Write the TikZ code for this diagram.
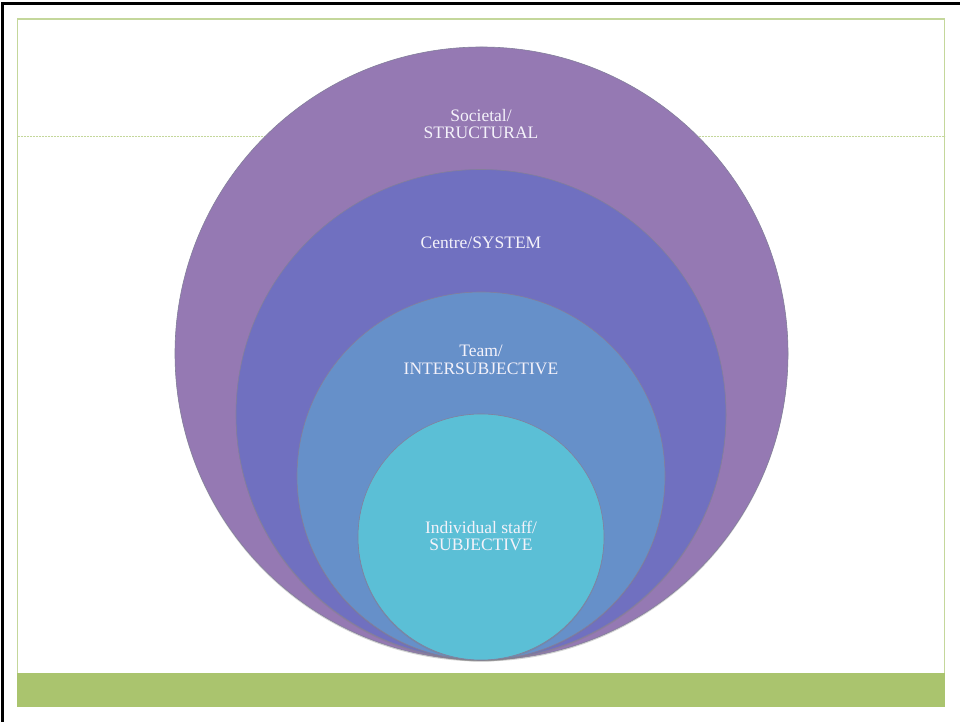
\documentclass[tikz,border=0pt]{standalone}
\usepackage{fontspec}
\setmainfont{Liberation Serif}
\usepackage{tikz}
\usetikzlibrary{shadows}
\usepackage{xcolor}
\definecolor{frameline}{HTML}{C4D79B}
\definecolor{footbar}{HTML}{AAC46E}
\definecolor{societal}{HTML}{9579B3}
\definecolor{centre}{HTML}{7070C0}
\definecolor{team}{HTML}{6690C9}
\definecolor{individual}{HTML}{5BBFD6}
\definecolor{labeltext}{HTML}{F4F2FA}
\definecolor{ringedge}{HTML}{4E4870}

\tikzset{
  ring/.style={circle, draw=ringedge!70, line width=0.6pt, inner sep=0pt,
    drop shadow={shadow xshift=0pt, shadow yshift=-1.5pt, opacity=0.35}},
  ringlabel/.style={align=center, text=labeltext,
    font=\fontsize{17.5}{17.5}\selectfont}
}

\begin{document}
\begin{tikzpicture}[x=1pt, y=1pt]
  \useasboundingbox (0,0) rectangle (960,722);
  \fill[white] (0,0) rectangle (960,722);

  % Slide frame
  \draw[line width=3pt] (2.5,0) -- (2.5,718.5) -- (960,718.5);
  \draw[frameline, line width=1.3pt] (17.5,15.5) rectangle (944.5,703);
  \draw[frameline, line width=1.1pt, dash pattern=on 2pt off 1pt] (17.5,585.3) -- (944.5,585.3);
  \fill[footbar] (17,15.3) rectangle (945,49.3);

  % Nested circles, all touching at the bottom
  \node[ring, fill=societal, minimum size=613pt] (societalring) at (481.5,368.5) {};
  \node[ring, fill=centre, minimum size=490pt] (centrering) at (481,307.5) {};
  \node[ring, fill=team, minimum size=368pt] (teamring) at (481,246) {};
  \node[ring, fill=individual, minimum size=246pt] (individualring) at (481,185) {};

  % Labels
  \node[ringlabel] (societallabel) at (481,598) {Societal/\\STRUCTURAL};
  \node[ringlabel] (centrelabel) at (481,479) {Centre/SYSTEM};
  \node[ringlabel] (teamlabel) at (481,362) {Team/\\INTERSUBJECTIVE};
  \node[ringlabel] (individuallabel) at (481,186) {Individual staff/\\SUBJECTIVE};
\end{tikzpicture}
\end{document}
